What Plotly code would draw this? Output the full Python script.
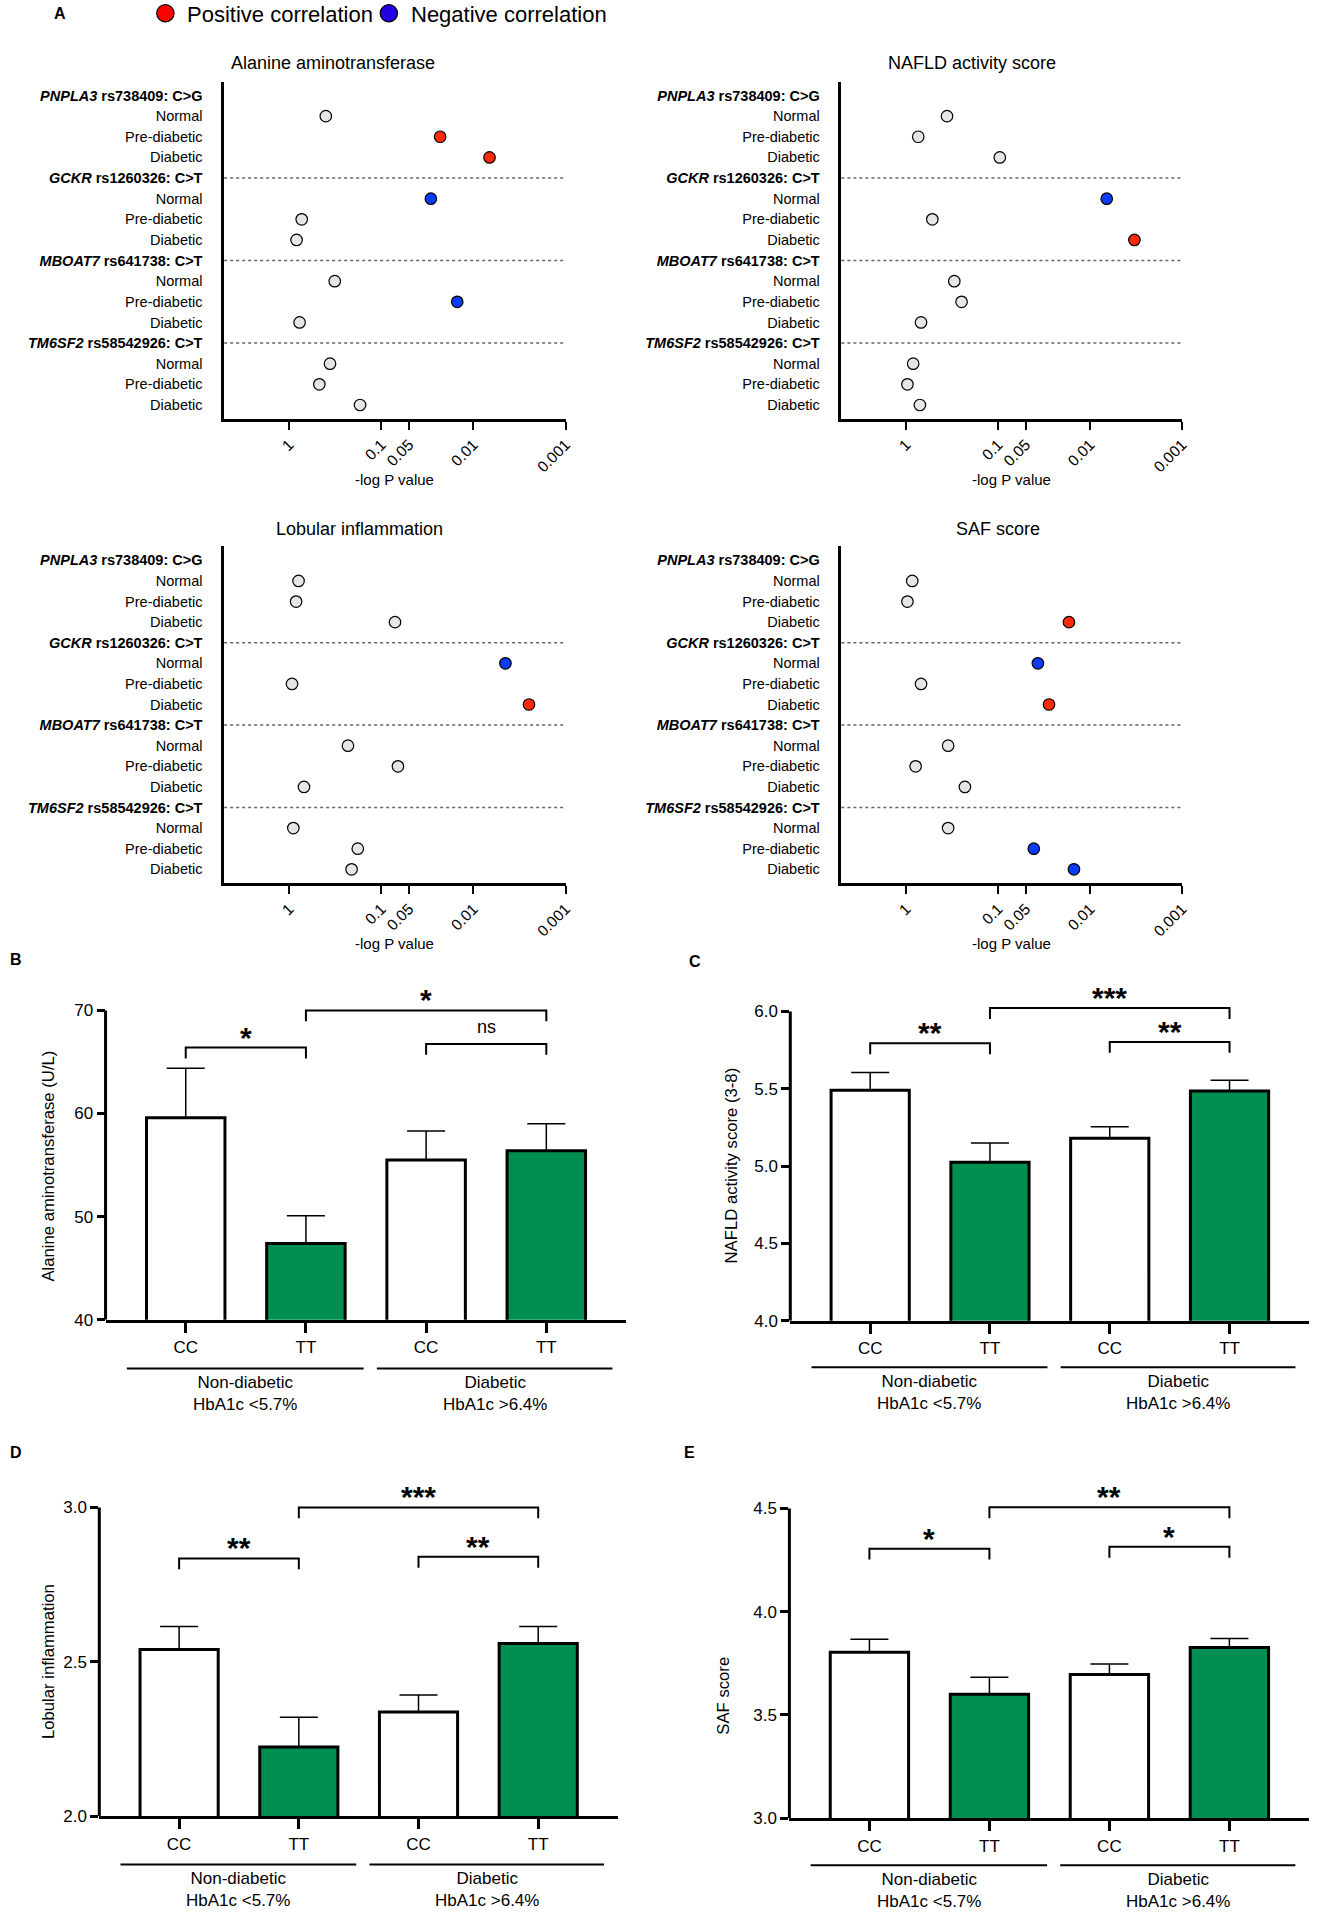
import math
import plotly.graph_objects as go

W, H = 1322, 1920
FONT = "Liberation Sans, Arial, Helvetica, sans-serif"

# ---- panel A data -------------------------------------------------------
GENES = ["PNPLA3", "GCKR", "MBOAT7", "TM6SF2"]
SNPS = ["rs738409: C&gt;G", "rs1260326: C&gt;T", "rs641738: C&gt;T", "rs58542926: C&gt;T"]
GROUPS = ["Normal", "Pre-diabetic", "Diabetic"]
P_TICKS = [1, 0.1, 0.05, 0.01, 0.001]
P_TICK_TEXT = ["1", "0.1", "0.05", "0.01", "0.001"]

# P values gene by gene (Normal, Pre-diabetic, Diabetic)
# direction: 1 positive correlation, -1 negative correlation, 0 not significant
alt_p = [0.40, 0.023, 0.0067, 0.029, 0.73, 0.83, 0.32, 0.015, 0.77, 0.36, 0.47, 0.17]
alt_dir = [0, 1, 1, -1, 0, 0, 0, -1, 0, 0, 0, 0]
nas_p = [0.36, 0.74, 0.096, 0.0066, 0.52, 0.0033, 0.30, 0.25, 0.69, 0.84, 0.97, 0.71]
nas_dir = [0, 0, 0, -1, 0, 1, 0, 0, 0, 0, 0, 0]
lob_p = [0.79, 0.84, 0.071, 0.0045, 0.93, 0.0025, 0.23, 0.066, 0.69, 0.90, 0.18, 0.21]
lob_dir = [0, 0, 0, -1, 0, 1, 0, 0, 0, 0, 0, 0]
saf_p = [0.86, 0.97, 0.017, 0.037, 0.69, 0.028, 0.35, 0.79, 0.23, 0.35, 0.041, 0.015]
saf_dir = [0, 0, 1, -1, 0, 1, 0, 0, 0, 0, -1, -1]

# ---- panels B-E data ----------------------------------------------------
GENOTYPES = ["CC", "TT", "CC", "TT"]
COHORTS = ["Non-diabetic<br>HbA1c &lt;5.7%", "Diabetic<br>HbA1c &gt;6.4%"]
alt_mean = [59.6, 47.4, 55.5, 56.4]
alt_sem = [4.8, 2.7, 2.8, 2.6]
nas_mean = [5.49, 5.025, 5.18, 5.485]
nas_sem = [0.115, 0.125, 0.075, 0.07]
lob_mean = [2.54, 2.225, 2.338, 2.56]
lob_sem = [0.075, 0.096, 0.055, 0.055]
saf_mean = [3.804, 3.60, 3.696, 3.827]
saf_sem = [0.063, 0.082, 0.051, 0.043]

# significance brackets: (bar from, bar to, bracket height, label)
alt_sig = [(0, 1, 66.4, "*"), (1, 3, 70.0, "*"), (2, 3, 66.75, "ns")]
nas_sig = [(0, 1, 5.794, "**"), (1, 3, 6.022, "***"), (2, 3, 5.803, "**")]
lob_sig = [(0, 1, 2.835, "**"), (1, 3, 3.0, "***"), (2, 3, 2.84, "**")]
saf_sig = [(0, 1, 4.305, "*"), (1, 3, 4.505, "**"), (2, 3, 4.314, "*")]

GREEN = "#008f51"
DOT = {1: "#ff2a0a", -1: "#0a3cff", 0: "#e6e6e6"}


def px(x):
    return x / W


def py(y):
    return 1 - y / H


fig = go.Figure()
layout = {}
shapes, annos = [], []


def text(x, y, s, size, **kw):
    d = dict(x=px(x), y=py(y), xref="paper", yref="paper", text=s, showarrow=False,
             xanchor="center", yanchor="middle",
             font=dict(size=size, color="black", family=FONT))
    d.update(kw)
    annos.append(d)


# ---- panel A: p-value dot plots ----------------------------------------
rows = []
for g, s in zip(GENES, SNPS):
    rows.append(f"<b><i>{g}</i> {s}</b>")
    rows += GROUPS
point_rows = [i for i, r in enumerate(rows) if r in GROUPS]
header_rows = [i for i, r in enumerate(rows) if r not in GROUPS]

forest = [
    ("Alanine aminotransferase", alt_p, alt_dir, (225.5, 569.1), (82, 421), (335, 63)),
    ("NAFLD activity score", nas_p, nas_dir, (846.5, 1189.3), (82, 421), (978, 63)),
    ("Lobular inflammation", lob_p, lob_dir, (225.5, 569.1), (549.3, 887.7), (362, 532)),
    ("SAF score", saf_p, saf_dir, (846.5, 1189.3), (549.3, 887.7), (1004, 532)),
]

k = 0
for title, p, d, (x0, x1), (y0, y1), (tx, ty) in forest:
    k += 1
    sfx = "" if k == 1 else str(k)
    fig.add_trace(go.Scatter(
        x=p, y=point_rows, mode="markers", xaxis="x" + sfx, yaxis="y" + sfx,
        marker=dict(size=11.5, color=[DOT[v] for v in d], line=dict(color="black", width=1.2)),
        showlegend=False, cliponaxis=False))
    layout["xaxis" + sfx] = dict(
        domain=[px(x0), px(x1)], anchor="y" + sfx, type="log", range=[0.705, -3],
        tickvals=P_TICKS, ticktext=P_TICK_TEXT, tickangle=-45, ticks="outside",
        ticklen=8, tickwidth=2, tickcolor="black", showline=True, linewidth=2.5,
        linecolor="black", showgrid=False, zeroline=False,
        tickfont=dict(size=15.5, color="black"))
    layout["yaxis" + sfx] = dict(
        domain=[py(y1), py(y0)], anchor="x" + sfx, range=[15.67, -0.675],
        tickvals=list(range(len(rows))), ticktext=rows, showline=True, linewidth=2.5,
        linecolor="black", showgrid=False, zeroline=False, ticklabelstandoff=16,
        tickfont=dict(size=14.5, color="black"))
    lx = math.log10(0.05)
    shapes.append(dict(type="line", xref="x" + sfx, yref="y" + sfx + " domain",
                       x0=lx, x1=lx, y0=0, y1=1,
                       line=dict(color="black", width=1.5, dash="dot")))
    for r in header_rows[1:]:
        shapes.append(dict(type="line", xref="x" + sfx + " domain", yref="y" + sfx,
                           x0=0, x1=1, y0=r, y1=r,
                           line=dict(color="#666666", width=1.5, dash="dot")))
    text(tx, ty, title, 18)
    text((x0 + x1) / 2, y1 + 61, "-log P value", 15)

# legend for panel A
for cx, col, label in [(166.4, "#ff0000", "Positive correlation"),
                       (391.2, "#2200dd", "Negative correlation")]:
    shapes.append(dict(type="circle", xref="paper", yref="paper",
                       x0=px(cx - 8.7), x1=px(cx + 8.7), y0=py(13.3 + 8.7), y1=py(13.3 - 8.7),
                       fillcolor=col, line=dict(color="black", width=1.2)))
    text(cx + 20, 15, label, 22, xanchor="left")

# ---- panels B-E: bar charts ---------------------------------------------
bars = [
    ("B", "Alanine aminotransferase (U/L)", alt_mean, alt_sem, alt_sig, [40, 50, 60, 70], "{:.0f}",
     dict(x=(106.2, 630.3), bottom=1326.7, top=1015.7, ttl=(49, 1172), gy=1375.7, lab=(8, 965))),
    ("C", "NAFLD activity score (3-8)", nas_mean, nas_sem, nas_sig, [4.0, 4.5, 5.0, 5.5, 6.0], "{:.1f}",
     dict(x=(795.1, 1317.4), bottom=1327.7, top=1016.7, ttl=(736, 1172), gy=1374.3, lab=(691, 967))),
    ("D", "Lobular inflammation", lob_mean, lob_sem, lob_sig, [2.0, 2.5, 3.0], "{:.1f}",
     dict(x=(99.9, 621.8), bottom=1826, top=1515.3, ttl=(49, 1670), gy=1874.3, lab=(8, 1460))),
    ("E", "SAF score", saf_mean, saf_sem, saf_sig, [3.0, 3.5, 4.0, 4.5], "{:.1f}",
     dict(x=(794.2, 1317.4), bottom=1827.7, top=1516.3, ttl=(728, 1705), gy=1875, lab=(686, 1460))),
]

for letter, ytitle, mean, sem, sig, yt, fmt, g in bars:
    k += 1
    sfx = str(k)
    ymin, ymax = yt[0], yt[-1]
    ppu = (g["bottom"] - g["top"]) / (ymax - ymin)
    pad = 18
    fig.add_trace(go.Bar(
        x=list(range(len(GENOTYPES))), y=mean, width=0.653, xaxis="x" + sfx, yaxis="y" + sfx,
        marker=dict(color=["white", GREEN, "white", GREEN], line=dict(color="black", width=3)),
        error_y=dict(type="data", array=sem, arrayminus=[0] * len(sem), symmetric=False,
                     color="black", thickness=1.5, width=19),
        showlegend=False))
    layout["xaxis" + sfx] = dict(
        domain=[px(g["x"][0]), px(g["x"][1])], anchor="y" + sfx, range=[-0.667, 3.667],
        tickvals=list(range(len(GENOTYPES))), ticktext=GENOTYPES, ticks="outside",
        ticklen=10, tickwidth=3, tickcolor="black", showline=True, linewidth=3,
        linecolor="black", showgrid=False, zeroline=False,
        tickfont=dict(size=17, color="black"))
    layout["yaxis" + sfx] = dict(
        domain=[py(g["bottom"]), py(g["top"] - pad)], anchor="x" + sfx,
        range=[ymin, ymax + pad / ppu], tickvals=yt, ticktext=[fmt.format(v) for v in yt],
        ticks="outside", ticklen=8, tickwidth=2.5, tickcolor="black", showline=False,
        showgrid=False, zeroline=False, tickfont=dict(size=17, color="black"))
    # y axis line stops at the top tick
    shapes.append(dict(type="line", xref="x" + sfx + " domain", yref="y" + sfx,
                       x0=0, x1=0, y0=ymin, y1=ymax, line=dict(color="black", width=3)))
    drop = 11 / ppu
    for i, j, top, lab in sig:
        shapes.append(dict(type="path", xref="x" + sfx, yref="y" + sfx,
                           path=f"M {i},{top - drop} L {i},{top} L {j},{top} L {j},{top - drop}",
                           line=dict(color="black", width=2)))
        star = lab != "ns"
        annos.append(dict(x=(i + j) / 2, y=top, xref="x" + sfx, yref="y" + sfx,
                          text=f"<b>{lab}</b>" if star else lab, showarrow=False,
                          xanchor="center", yanchor="bottom", yshift=-8 if star else 5,
                          font=dict(size=30 if star else 18, color="black", family=FONT)))
    for (a, b), cohort in zip([(-0.49, 1.48), (1.59, 3.55)], COHORTS):
        shapes.append(dict(type="line", xref="x" + sfx, yref="paper", x0=a, x1=b,
                           y0=py(g["gy"]), y1=py(g["gy"]), line=dict(color="black", width=2)))
        annos.append(dict(x=(a + b) / 2, y=py(g["gy"] + 25), xref="x" + sfx, yref="paper",
                          text=cohort, showarrow=False, xanchor="center", yanchor="middle",
                          font=dict(size=17, color="black", family=FONT)))
    text(g["ttl"][0], g["ttl"][1], ytitle, 16.7, textangle=-90)
    text(g["lab"][0], g["lab"][1], f"<b>{letter}</b>", 16, xanchor="left")

text(52, 14, "<b>A</b>", 16, xanchor="left")

fig.update_layout(
    width=W, height=H, margin=dict(l=0, r=0, t=0, b=0),
    paper_bgcolor="white", plot_bgcolor="white",
    font=dict(family=FONT, color="black"),
    shapes=shapes, annotations=annos, bargap=0.3,
    **layout
)

# drop the browser's default body margin so the figure sits at the page origin
fig.write_html("out.html", config={"displayModeBar": False},
               post_script="document.body.style.margin='0';")
